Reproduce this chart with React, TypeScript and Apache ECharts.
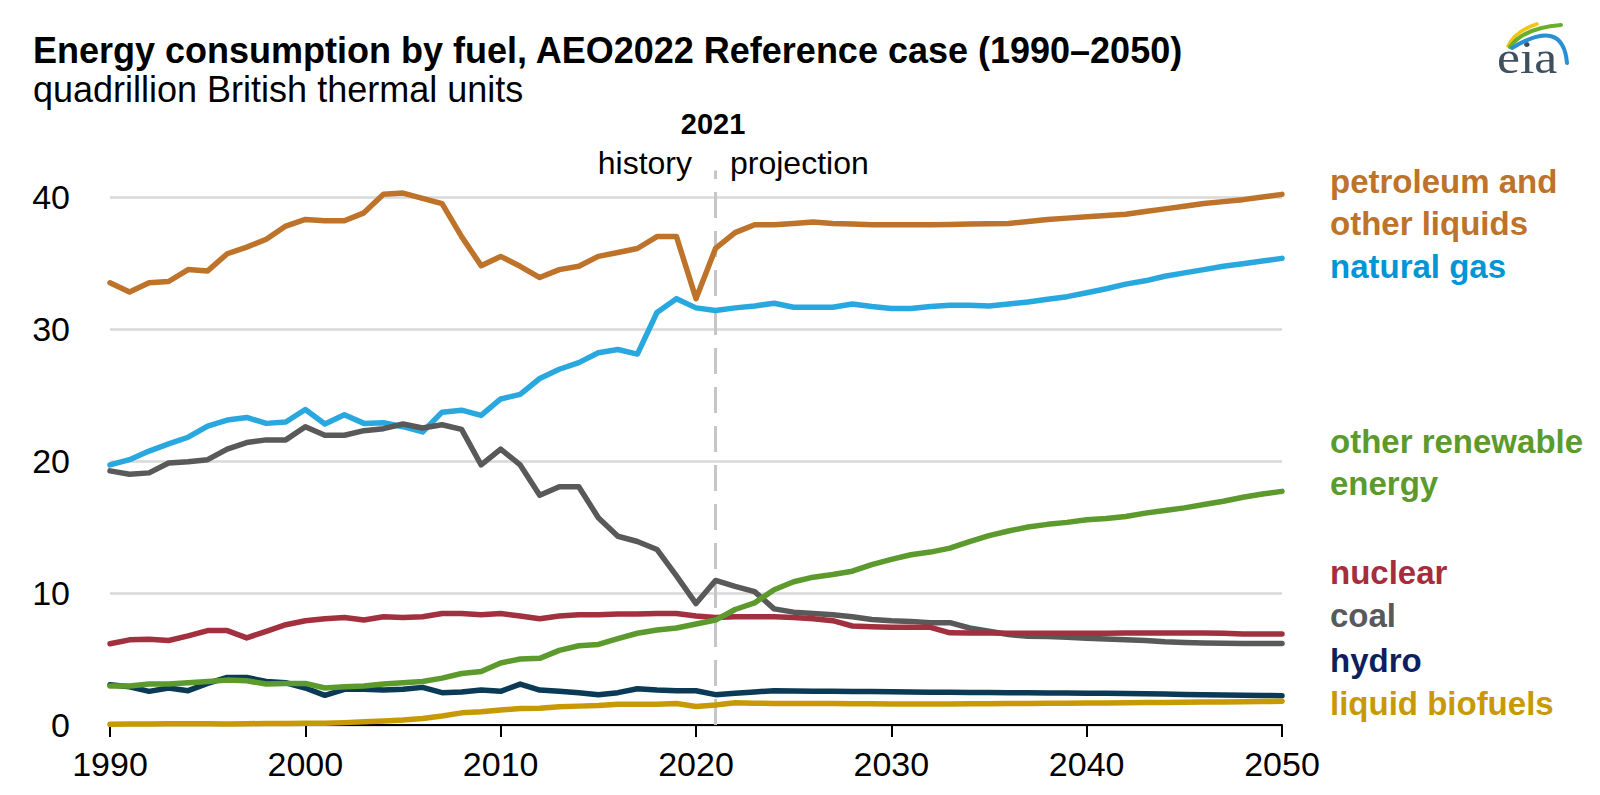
import React, { useEffect, useRef } from "react";
import * as echarts from "echarts";

const years: number[] = [];
for (let y = 1990; y <= 2050; y++) years.push(y);

const petroleum = [33.5, 32.8, 33.5, 33.6, 34.5, 34.4, 35.7, 36.2, 36.8, 37.8, 38.3, 38.2, 38.2, 38.8, 40.2, 40.3, 39.9, 39.5, 37.0, 34.8, 35.5, 34.75, 33.9, 34.5, 34.75, 35.5, 35.8, 36.1, 37.0, 37.0, 32.3, 36.1, 37.3, 37.9, 37.9, 38.0, 38.1, 38.0, 37.95, 37.9, 37.9, 37.9, 37.9, 37.92, 37.95, 37.97, 38.0, 38.15, 38.3, 38.4, 38.5, 38.6, 38.7, 38.9, 39.1, 39.3, 39.5, 39.65, 39.8, 40.0, 40.2];
const naturalGas = [19.7, 20.1, 20.75, 21.3, 21.8, 22.65, 23.1, 23.3, 22.85, 22.95, 23.9, 22.8, 23.5, 22.85, 22.9, 22.6, 22.2, 23.7, 23.85, 23.45, 24.7, 25.05, 26.25, 26.95, 27.45, 28.2, 28.45, 28.1, 31.25, 32.3, 31.6, 31.4, 31.6, 31.75, 31.95, 31.65, 31.65, 31.65, 31.9, 31.7, 31.55, 31.55, 31.7, 31.8, 31.8, 31.75, 31.9, 32.05, 32.25, 32.45, 32.75, 33.05, 33.4, 33.65, 34.0, 34.25, 34.5, 34.75, 34.95, 35.15, 35.35];
const coal = [19.25, 19.0, 19.1, 19.85, 19.95, 20.1, 20.9, 21.4, 21.6, 21.6, 22.6, 21.95, 21.95, 22.3, 22.45, 22.8, 22.5, 22.75, 22.4, 19.7, 20.9, 19.7, 17.4, 18.05, 18.05, 15.7, 14.3, 13.9, 13.3, 11.3, 9.2, 10.95, 10.5, 10.1, 8.8, 8.55, 8.45, 8.35, 8.2, 8.0, 7.9, 7.85, 7.75, 7.75, 7.35, 7.1, 6.85, 6.72, 6.7, 6.65, 6.58, 6.52, 6.45, 6.4, 6.3, 6.25, 6.22, 6.2, 6.18, 6.18, 6.18];
const nuclear = [6.15, 6.45, 6.5, 6.4, 6.75, 7.15, 7.15, 6.6, 7.1, 7.6, 7.9, 8.05, 8.15, 7.95, 8.2, 8.15, 8.2, 8.45, 8.45, 8.35, 8.45, 8.25, 8.05, 8.25, 8.35, 8.35, 8.4, 8.4, 8.45, 8.45, 8.25, 8.15, 8.2, 8.2, 8.2, 8.15, 8.05, 7.9, 7.5, 7.45, 7.4, 7.4, 7.4, 6.98, 6.97, 6.97, 6.96, 6.96, 6.96, 6.96, 6.96, 6.96, 6.97, 6.97, 6.97, 6.97, 6.97, 6.96, 6.9, 6.9, 6.9];
const renewables = [2.95, 2.95, 3.1, 3.1, 3.2, 3.3, 3.4, 3.35, 3.1, 3.15, 3.15, 2.8, 2.9, 2.95, 3.1, 3.2, 3.3, 3.55, 3.9, 4.05, 4.7, 5.0, 5.05, 5.65, 6.0, 6.1, 6.55, 6.95, 7.2, 7.35, 7.65, 7.95, 8.75, 9.25, 10.25, 10.85, 11.2, 11.4, 11.65, 12.15, 12.55, 12.9, 13.1, 13.4, 13.9, 14.35, 14.7, 15.0, 15.2, 15.35, 15.55, 15.65, 15.8, 16.05, 16.25, 16.45, 16.7, 16.95, 17.25, 17.5, 17.7];
const hydro = [3.05, 2.9, 2.55, 2.8, 2.6, 3.15, 3.6, 3.6, 3.3, 3.2, 2.8, 2.25, 2.7, 2.7, 2.65, 2.7, 2.85, 2.45, 2.5, 2.65, 2.55, 3.1, 2.65, 2.55, 2.45, 2.3, 2.45, 2.75, 2.65, 2.6, 2.6, 2.3, 2.4, 2.5, 2.6, 2.58, 2.56, 2.55, 2.54, 2.53, 2.52, 2.5, 2.49, 2.48, 2.47, 2.46, 2.45, 2.44, 2.43, 2.42, 2.41, 2.4, 2.38, 2.36, 2.34, 2.32, 2.3, 2.28, 2.26, 2.24, 2.22];
const biofuels = [0.05, 0.07, 0.08, 0.09, 0.1, 0.1, 0.08, 0.1, 0.11, 0.12, 0.13, 0.14, 0.18, 0.25, 0.3, 0.38, 0.5, 0.68, 0.92, 1.0, 1.14, 1.25, 1.27, 1.38, 1.43, 1.48, 1.57, 1.58, 1.58, 1.63, 1.4, 1.52, 1.68, 1.65, 1.63, 1.62, 1.62, 1.62, 1.61, 1.61, 1.6, 1.6, 1.6, 1.6, 1.61, 1.61, 1.62, 1.63, 1.64, 1.65, 1.66, 1.67, 1.68, 1.7, 1.71, 1.72, 1.74, 1.75, 1.77, 1.78, 1.8];

const seriesNames = ["petroleum and other liquids", "natural gas", "coal", "nuclear", "hydro", "other renewable energy", "liquid biofuels"];
const labelTexts = ["petroleum and", "other liquids", "natural gas", "other renewable", "energy", "nuclear", "coal", "hydro", "liquid biofuels"];

const divideYear = 2021;
const xTicks = { min: 1990, max: 2050, step: 10 };
const yTicks = { min: 0, max: 40, step: 10 };

const FONT = '"Liberation Sans", Arial, Helvetica, sans-serif';

export default function App() {
  const ref = useRef<HTMLDivElement>(null);
  useEffect(() => {
    if (!ref.current) return;
    const chart = echarts.init(ref.current, null, { renderer: "svg" });
    const lineColors = ["#bd7329", "#29a8df", "#595959", "#a3303f", "#0b3a56", "#5c9a2e", "#c79a05"];
    const labelColors = ["#bd7329", "#bd7329", "#0096d6", "#5c9a2e", "#5c9a2e", "#a52d3d", "#595959", "#0d1f60", "#c79a05"];
    const labelBaselines = [193, 235, 278, 453, 495, 584, 627, 672, 715];
    const allValues = [petroleum, naturalGas, coal, nuclear, hydro, renewables, biofuels];
    const labelSize = 33;
    const series: any[] = [
      {
        type: "line",
        name: "divider",
        data: [[divideYear, 0], [divideYear, 42]],
        symbol: "none",
        clip: false,
        silent: true,
        lineStyle: { color: "#c6c6c6", width: 3, type: [26, 13] },
        z: 1,
      },
    ];
    allValues.forEach((vals, i) => {
      series.push({
        type: "line",
        name: seriesNames[i],
        data: years.map((y, k) => [y, vals[k]]),
        symbol: "none",
        showSymbol: false,
        clip: false,
        lineStyle: { color: lineColors[i], width: 5.5, cap: "round", join: "round" },
        itemStyle: { color: lineColors[i] },
        z: 2 + i,
      });
    });

    const graphics: any[] = [
      {
        type: "text", x: 33, y: 63 - 0.3465 * 36,
        style: { text: "Energy consumption by fuel, AEO2022 Reference case (1990\u20132050)", fill: "#000", fontSize: 36, fontWeight: "bold", fontFamily: FONT, textAlign: "left", verticalAlign: "middle", textVerticalAlign: "middle" },
      },
      {
        type: "text", x: 33, y: 102 - 0.3465 * 36,
        style: { text: "quadrillion British thermal units", fill: "#000", fontSize: 36, fontFamily: FONT, textAlign: "left", verticalAlign: "middle", textVerticalAlign: "middle" },
      },
      {
        type: "text", x: 713, y: 134 - 0.3465 * 29,
        style: { text: "2021", fill: "#000", fontSize: 29, fontWeight: "bold", fontFamily: FONT, textAlign: "center", verticalAlign: "middle", textVerticalAlign: "middle" },
      },
      {
        type: "text", x: 692, y: 174 - 0.3465 * 32,
        style: { text: "history", fill: "#000", fontSize: 32, fontFamily: FONT, textAlign: "right", verticalAlign: "middle", textVerticalAlign: "middle" },
      },
      {
        type: "text", x: 730, y: 174 - 0.3465 * 32,
        style: { text: "projection", fill: "#000", fontSize: 32, fontFamily: FONT, textAlign: "left", verticalAlign: "middle", textVerticalAlign: "middle" },
      },
      // eia logo
      {
        type: "text", x: 1497, y: 73 - 0.3375 * 47, scaleX: 1.1,
        style: { text: "eia", fill: "#3e4f5e", fontSize: 47, fontFamily: '"Liberation Serif", "DejaVu Serif", serif', textAlign: "left", verticalAlign: "middle", textVerticalAlign: "middle" },
      },
      {
        type: "bezierCurve",
        shape: { x1: 1508, y1: 46, cpx1: 1515, cpy1: 31, x2: 1537, y2: 24 },
        style: { stroke: "#f2c41a", lineWidth: 3.5, fill: null, lineCap: "round" },
      },
      {
        type: "bezierCurve",
        shape: { x1: 1510, y1: 47, cpx1: 1523, cpy1: 28, x2: 1561, y2: 25 },
        style: { stroke: "#6aae2a", lineWidth: 4, fill: null, lineCap: "round" },
      },
      {
        type: "bezierCurve",
        shape: { x1: 1512, y1: 48, cpx1: 1563, cpy1: 17, x2: 1567, y2: 63 },
        style: { stroke: "#2b8fd3", lineWidth: 4, fill: null, lineCap: "round" },
      },
    ];
    labelTexts.forEach((t, i) => {
      graphics.push({
        type: "text",
        x: 1330,
        y: labelBaselines[i] - 0.3465 * labelSize,
        style: { text: t, fill: labelColors[i], fontSize: labelSize, fontWeight: "bold", fontFamily: FONT, textAlign: "left", verticalAlign: "middle", textVerticalAlign: "middle" },
      });
    });

    chart.setOption({
      animation: false,
      backgroundColor: "#fff",
      textStyle: { fontFamily: FONT },
      grid: { left: 110, right: 318, top: 197, bottom: 70, containLabel: false },
      xAxis: {
        type: "value",
        min: xTicks.min,
        max: xTicks.max,
        interval: xTicks.step,
        axisLine: { show: true, lineStyle: { color: "#000", width: 2 } },
        axisTick: { show: true, length: 12, lineStyle: { color: "#000", width: 2 } },
        axisLabel: { fontSize: 34, color: "#000", margin: 22, fontFamily: FONT, formatter: (v: number) => String(v) },
        splitLine: { show: false },
      },
      yAxis: {
        type: "value",
        min: yTicks.min,
        max: yTicks.max,
        interval: yTicks.step,
        axisLine: { show: false },
        axisTick: { show: false },
        axisLabel: { fontSize: 34, color: "#000", margin: 40, fontFamily: FONT },
        splitLine: { show: true, lineStyle: { color: "#d9d9d9", width: 2.5 } },
      },
      series,
      graphic: graphics,
    });
    return () => chart.dispose();
  }, []);
  return <div ref={ref} style={{ position: "absolute", left: 0, top: 0, width: 1600, height: 795 }} />;
}
